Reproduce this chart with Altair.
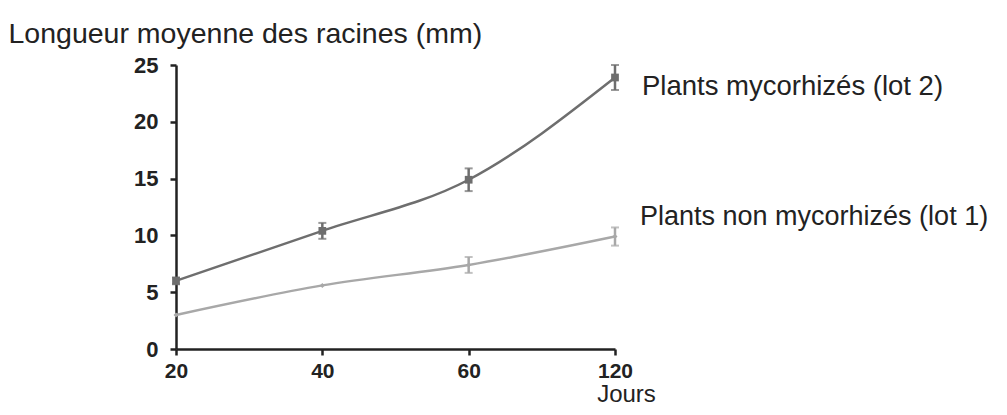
import altair as alt
import pandas as pd

jours = ["20", "40", "60", "120"]
myco_mean = [6.0, 10.4, 14.9, 23.9]
myco_err = [0.3, 0.7, 1.0, 1.1]
non_mean = [3.0, 5.6, 7.4, 9.9]
non_err = [0.0, 0.0, 0.7, 0.8]

series_myco = "Plants mycorhizés (lot 2)"
series_non = "Plants non mycorhizés (lot 1)"

rows = []
for j, m, e in zip(jours, myco_mean, myco_err):
    rows.append({"jour": j, "val": m, "lo": m - e, "hi": m + e, "err": e, "serie": series_myco})
for j, m, e in zip(jours, non_mean, non_err):
    rows.append({"jour": j, "val": m, "lo": m - e, "hi": m + e, "err": e, "serie": series_non})
df = pd.DataFrame(rows)

colors = alt.Scale(domain=[series_myco, series_non], range=["#6e6e6e", "#a8a8a8"])
FONT = "Liberation Sans"

xenc = alt.X(
    "jour:O",
    sort=jours,
    scale=alt.Scale(type="point", padding=0),
    axis=alt.Axis(
        title="Jours",
        titleFont=FONT, titleFontSize=24, titleFontWeight="normal", titleColor="#222",
        titleAnchor="end", titleAlign="center", titleX=450, titleY=52, titleBaseline="alphabetic",
        labelFont=FONT, labelFontSize=21, labelFontWeight="bold", labelColor="#222",
        labelAngle=0, labelPadding=5,
        domainColor="#222", domainWidth=2.5, tickColor="#222", tickWidth=2.5, tickSize=6,
        grid=False,
    ),
)
xs = alt.X("jour:O", sort=jours)
yenc = alt.Y(
    "val:Q",
    scale=alt.Scale(domain=[0, 25], nice=False),
    axis=alt.Axis(
        title="Longueur moyenne des racines (mm)",
        titleFont=FONT, titleFontSize=28.5, titleFontWeight="normal", titleColor="#222",
        titleAngle=0, titleAlign="left", titleBaseline="alphabetic", titleX=-168, titleY=-23,
        labelFont=FONT, labelFontSize=22, labelFontWeight="bold", labelColor="#222",
        labelPadding=12, values=[0, 5, 10, 15, 20, 25],
        domainColor="#222", domainWidth=2.5, tickColor="#222", tickWidth=2.5, tickSize=6,
        grid=False,
    ),
)
col = alt.Color("serie:N", scale=colors, legend=None)

base = alt.Chart(df)

lines = base.mark_line(interpolate="monotone", strokeWidth=2.5).encode(x=xenc, y=yenc, color=col)

pts_myco = base.transform_filter(alt.datum.serie == series_myco).mark_square(
    size=60, opacity=1
).encode(x=xs, y="val:Q", color=col)

pts_non = base.transform_filter(alt.datum.serie == series_non).mark_point(
    shape="diamond", size=25, filled=True, opacity=1
).encode(x=xs, y="val:Q", color=col)

errdf = base.transform_filter(alt.datum.err > 0)
err_rules = errdf.mark_rule(strokeWidth=2.5).encode(x=xs, y="lo:Q", y2="hi:Q", color=col)
err_lo = errdf.mark_tick(size=8, thickness=2, orient="horizontal").encode(x=xs, y="lo:Q", color=col)
err_hi = errdf.mark_tick(size=8, thickness=2, orient="horizontal").encode(x=xs, y="hi:Q", color=col)

last = base.transform_filter(alt.datum.jour == "120")
lab_myco = last.transform_filter(alt.datum.serie == series_myco).mark_text(
    align="left", baseline="middle", dx=27, dy=10, font=FONT, fontSize=27.5, color="#222"
).encode(x=xs, y="val:Q", text="serie:N")
lab_non = last.transform_filter(alt.datum.serie == series_non).mark_text(
    align="left", baseline="middle", dx=25, dy=-20, font=FONT, fontSize=27, color="#222"
).encode(x=xs, y="val:Q", text="serie:N")

chart = (
    alt.layer(lines, err_rules, err_lo, err_hi, pts_myco, pts_non, lab_myco, lab_non)
    .properties(
        width=439,
        height=284,
        background="white",
        autosize=alt.AutoSizeParams(type="none"),
        padding={"left": 168, "top": 57, "right": 384, "bottom": 58},
    )
    .configure_view(stroke=None)
)

chart.save("out.html", embed_options={"renderer": "svg", "actions": False})
